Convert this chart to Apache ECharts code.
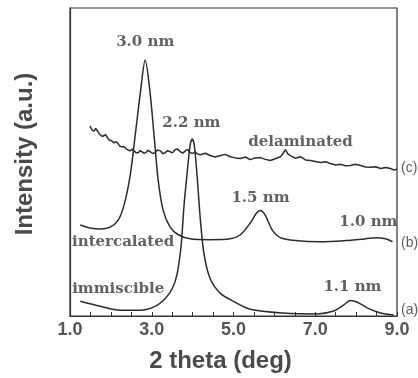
<html lang="en">
  <head>
    <meta charset="UTF-8" />
    <title>XRD patterns</title>
  </head>
  <body style="margin: 0; background: #fff">
    <div id="main" style="width: 418px; height: 378px"></div>

    <script src="https://cdn.jsdelivr.net/npm/echarts@6/dist/echarts.min.js"></script>
    <script>
      // [2 theta (deg), intensity (a.u.)]
      const immiscible = [
        [1.25, 5], [1.74, 3.3], [2.23, 2], [2.72, 2], [3.08, 3.3], [3.33, 6],
        [3.5, 9.3], [3.62, 14.3], [3.72, 24.3], [3.79, 37.7], [3.87, 49.3],
        [3.94, 58.3], [3.99, 60.3], [4.04, 58.3], [4.11, 47.7], [4.19, 32.7],
        [4.28, 21], [4.43, 12.7], [4.68, 7.7], [5.0, 5], [5.41, 2.3],
        [6.22, 1], [7.05, 0.7], [7.45, 1.7], [7.69, 3.7], [7.86, 5.3],
        [8.03, 4.7], [8.28, 2.7], [8.6, 1], [8.92, 0.3]
      ]
      const intercalated = [
        [1.25, 31], [1.49, 30], [1.74, 29.7], [1.98, 30.3], [2.18, 32.7],
        [2.32, 37.7], [2.47, 47.7], [2.59, 61], [2.72, 76], [2.84, 87.3],
        [2.96, 76], [3.06, 61], [3.16, 46], [3.28, 36], [3.45, 30.3],
        [3.65, 27.7], [3.94, 26.3], [4.43, 26], [4.92, 26.3], [5.17, 27.7],
        [5.41, 31.7], [5.56, 35], [5.66, 36], [5.78, 34.3], [5.95, 29.3],
        [6.15, 26.7], [6.51, 25.7], [7.13, 25.3], [7.74, 25.7], [8.23, 26.3],
        [8.48, 26.7], [8.72, 26.3], [8.89, 25.3]
      ]
      const delaminated = [
        [1.49, 64.7], [1.54, 63.4], [1.59, 63], [1.63, 64], [1.66, 63.7],
        [1.7, 62.4], [1.74, 62], [1.79, 61.2], [1.83, 61], [1.87, 61.8],
        [1.91, 61.3], [1.95, 60.1], [1.98, 60], [2.03, 59.6], [2.08, 59],
        [2.13, 59.4], [2.18, 58.7], [2.22, 57.9], [2.27, 57.7], [2.32, 57.8],
        [2.37, 57], [2.42, 56.6], [2.47, 56.3], [2.52, 56.9], [2.57, 56.3],
        [2.62, 55.6], [2.67, 55.7], [2.72, 56.4], [2.76, 56.3], [2.81, 55.5],
        [2.86, 55.7], [2.91, 56.5], [2.96, 56], [3.02, 55.4], [3.08, 55.7],
        [3.14, 56.6], [3.21, 56.3], [3.27, 55.3], [3.33, 55.7], [3.39, 56.4],
        [3.45, 56], [3.51, 55.6], [3.57, 56.7], [3.63, 56.9], [3.7, 56],
        [3.76, 55.5], [3.82, 56.3], [3.88, 56.8], [3.94, 55.7], [4.0, 55.4],
        [4.06, 56], [4.12, 55.2], [4.19, 55], [4.31, 55.5], [4.43, 54.7],
        [4.55, 54.2], [4.68, 54.7], [4.8, 55.1], [4.92, 54.3], [5.04, 53.9],
        [5.17, 53.7], [5.29, 54.2], [5.41, 53.3], [5.53, 53.9], [5.66, 54],
        [5.78, 53.4], [5.9, 53], [6.02, 53.6], [6.15, 54.3], [6.21, 55.4],
        [6.27, 56.7], [6.33, 55.3], [6.39, 54.7], [6.51, 53.8], [6.64, 54.3],
        [6.76, 53.2], [6.88, 53], [7.0, 52.7], [7.13, 52.3], [7.25, 52.6],
        [7.37, 52], [7.5, 51.5], [7.62, 51.7], [7.74, 51.2], [7.86, 51.3],
        [7.98, 51.7], [8.11, 51.3], [8.23, 50.8], [8.35, 50.7], [8.48, 50.9],
        [8.6, 50.3], [8.72, 50.6], [8.84, 50.3], [8.92, 49.8], [9.0, 50]
      ]
      // annotation texts and where they sit, in data units
      const notes = [
        [2.84, 93.3, '3.0 nm'],
        [3.97, 65.7, '2.2 nm'],
        [6.64, 59.3, 'delaminated'],
        [5.66, 40.3, '1.5 nm'],
        [8.3, 32, '1.0 nm'],
        [2.3, 25.3, 'intercalated'],
        [2.18, 9.3, 'immiscible'],
        [7.91, 10, '1.1 nm']
      ]
      const curveTags = [
        [9.0, 50.3, '(c)'],
        [9.0, 25, '(b)'],
        [9.0, 2, '(a)']
      ]
      const xTicks = [1.0, 3.0, 5.0, 7.0, 9.0]

      const serif = 'DejaVu Serif'
      const lineSeries = (name, data, smooth) => ({
        name,
        type: 'line',
        data,
        showSymbol: false,
        smooth,
        lineStyle: { color: '#2b2b2b', width: 1.5 },
        z: 3
      })

      let mCharts = echarts.init(document.querySelector('#main'))
      let option = {
        animation: false,
        grid: {
          left: 70,
          right: 21,
          top: 8,
          bottom: 55,
          show: true,
          borderColor: '#333',
          borderWidth: 1.2
        },
        xAxis: {
          type: 'value',
          min: 1,
          max: 9,
          interval: 0.5,
          name: '2 theta (deg)',
          nameLocation: 'middle',
          nameGap: 33,
          nameTextStyle: {
            fontFamily: 'Liberation Sans',
            fontSize: 24,
            fontWeight: 'bold',
            color: '#4a4a4a',
            padding: [0, 26, 0, 0]
          },
          axisLine: { lineStyle: { color: '#333', width: 1.2 } },
          axisTick: { inside: true, length: 4, lineStyle: { color: '#333' } },
          splitLine: { show: false },
          axisLabel: {
            margin: 5,
            fontFamily: 'Liberation Sans',
            fontSize: 18,
            fontWeight: 'bold',
            color: '#555',
            formatter: (v) => (xTicks.some((t) => Math.abs(t - v) < 1e-6) ? v.toFixed(1) : '')
          }
        },
        yAxis: {
          type: 'value',
          min: 0,
          max: 105,
          name: 'Intensity (a.u.)',
          nameLocation: 'middle',
          nameGap: 33,
          nameTextStyle: {
            fontFamily: 'Liberation Sans',
            fontSize: 24,
            fontWeight: 'bold',
            color: '#4a4a4a',
            padding: [0, 0, 0, 16]
          },
          axisLine: { show: true, lineStyle: { color: '#333', width: 1.2 } },
          axisTick: { show: false },
          axisLabel: { show: false },
          splitLine: { show: false }
        },
        series: [
          lineSeries('immiscible', immiscible, 0.3),
          lineSeries('intercalated', intercalated, 0.3),
          lineSeries('delaminated', delaminated, false),
          {
            type: 'scatter',
            symbolSize: 0,
            clip: false,
            data: notes,
            label: {
              show: true,
              position: 'inside',
              formatter: (p) => p.data[2],
              fontFamily: serif,
              fontSize: 15,
              fontWeight: 'bold',
              color: '#3a3a3a'
            },
            z: 4
          },
          {
            type: 'scatter',
            symbolSize: 0,
            clip: false,
            data: curveTags,
            label: {
              show: true,
              position: 'right',
              distance: 4,
              formatter: (p) => p.data[2],
              fontFamily: 'Liberation Sans',
              fontSize: 14,
              color: '#333'
            },
            z: 4
          }
        ]
      }
      mCharts.setOption(option)
    </script>
  </body>
</html>
